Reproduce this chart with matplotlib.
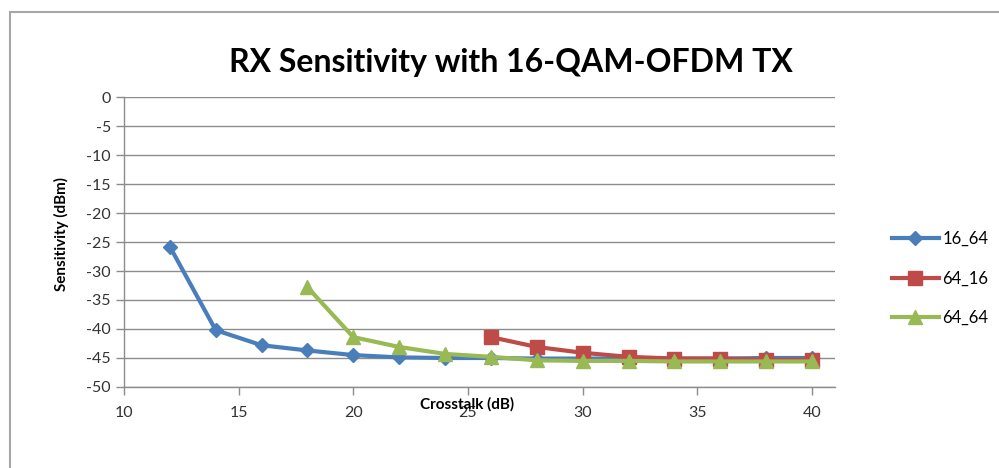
import matplotlib.pyplot as plt
from matplotlib.patches import Rectangle

# crosstalk (dB) and sensitivity (dBm)
x_16_64 = [12, 14, 16, 18, 20, 22, 24, 26, 28, 30, 32, 34, 36, 38, 40]
y_16_64 = [-25.8, -40.2, -42.8, -43.7, -44.5, -44.9, -45.0, -45.0, -45.1, -45.1, -45.1, -45.1, -45.1, -45.0, -45.0]

x_64_16 = [26, 28, 30, 32, 34, 36, 38, 40]
y_64_16 = [-41.4, -43.1, -44.1, -44.8, -45.1, -45.1, -45.3, -45.3]

x_64_64 = [18, 20, 22, 24, 26, 28, 30, 32, 34, 36, 38, 40]
y_64_64 = [-32.8, -41.4, -43.1, -44.3, -44.8, -45.4, -45.5, -45.5, -45.6, -45.6, -45.6, -45.6]

x_ticks = [10, 15, 20, 25, 30, 35, 40]
y_ticks = [0, -5, -10, -15, -20, -25, -30, -35, -40, -45, -50]

plt.rcParams["font.family"] = ["Lato", "DejaVu Sans"]
plt.rcParams["axes.unicode_minus"] = False

fig = plt.figure(figsize=(9.99, 4.68), dpi=100)
ax = fig.add_axes([0.1241, 0.1731, 0.7117, 0.6196])

# outer chart frame (only left and top edges visible)
fig.patches.append(Rectangle((10 / 999, -0.1), 1.2, 1.1 - 12 / 468,
                             transform=fig.transFigure, fill=False,
                             edgecolor="#a6a6a6", linewidth=1.5))

ax.plot(x_16_64, y_16_64, color="#4a7ebb", marker="D", markersize=7.5, linewidth=3, label="16_64")
ax.plot(x_64_16, y_64_16, color="#be4b48", marker="s", markersize=9.5, linewidth=3, label="64_16")
ax.plot(x_64_64, y_64_64, color="#98b954", marker="^", markersize=10.5, linewidth=3, label="64_64")

ax.set_xlim(10, 41)
ax.set_ylim(-50, 0)
ax.set_xticks(x_ticks)
ax.set_yticks(y_ticks)
ax.grid(axis="y", color="#8c8c8c", linewidth=1)
ax.set_axisbelow(True)
for side in ["top", "right"]:
    ax.spines[side].set_visible(False)
for side in ["left", "bottom"]:
    ax.spines[side].set_color("#8c8c8c")
    ax.spines[side].set_linewidth(1)
ax.tick_params(axis="both", color="#8c8c8c", length=6, width=1, labelsize=11.5, labelcolor="#333333")
ax.tick_params(axis="x", pad=8)

fig.text(0.511, 0.867, "RX Sensitivity with 16-QAM-OFDM TX", ha="center", va="center",
         fontsize=23, fontweight="bold")
fig.text(0.062, 0.50, "Sensitivity (dBm)", rotation=90, ha="center", va="center",
         fontsize=11, fontweight="bold")
fig.text(0.468, 0.137, "Crosstalk (dB)", ha="center", va="center",
         fontsize=11, fontweight="bold")

fig.legend(loc="center left", bbox_to_anchor=(0.878, 0.405), frameon=False,
           fontsize=12, handlelength=2.8, labelspacing=1.4, handletextpad=0.2)

fig.savefig("out.png", dpi=100)
